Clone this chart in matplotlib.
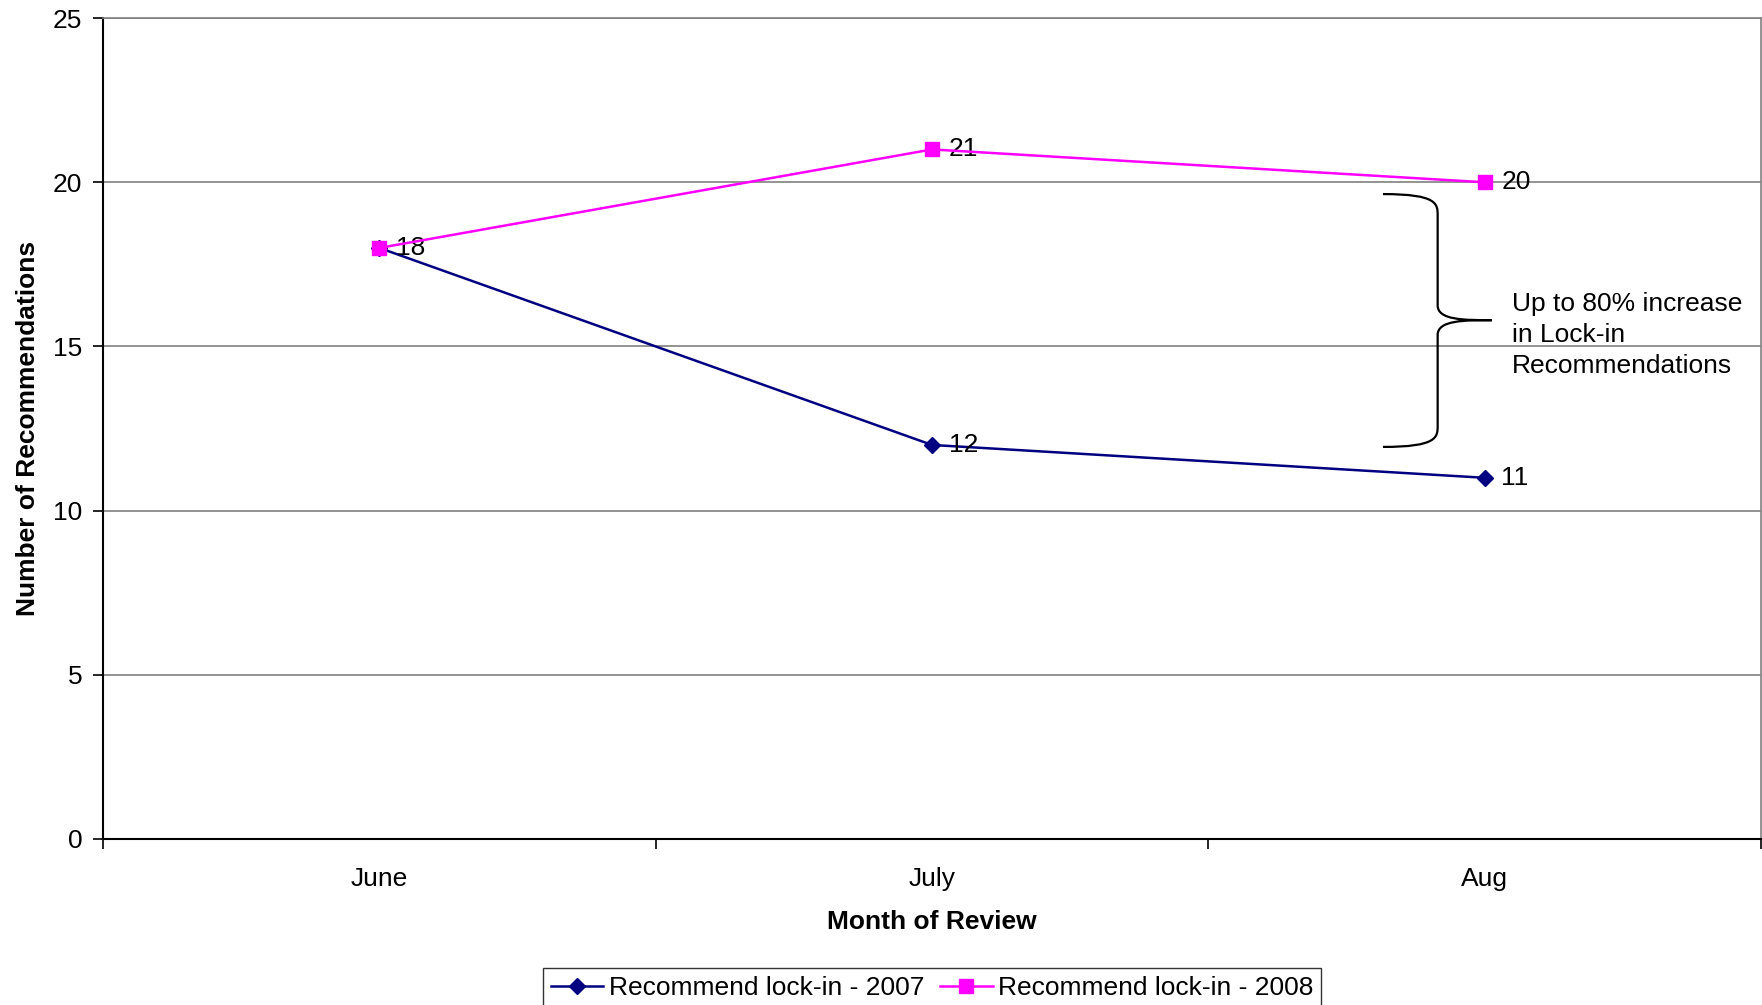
import matplotlib.pyplot as plt
from matplotlib.path import Path
from matplotlib.patches import PathPatch

plt.rcParams['font.family'] = ['Liberation Sans', 'DejaVu Sans']

months = ['June', 'July', 'Aug']
lock_2007 = [18, 12, 11]
lock_2008 = [18, 21, 20]
note = 'Up to 80% increase\nin Lock-in\nRecommendations'

fig = plt.figure(figsize=(17.62, 10.05), dpi=100)
ax = fig.add_axes([0.0585, 0.1652, 0.9409, 0.8168])

x = [i + 0.5 for i in range(len(months))]
ax.plot(x, lock_2007, color='#000080', lw=1.8, marker='D', ms=8,
        label='Recommend lock-in - 2007', zorder=3)
ax.plot(x, lock_2008, color='#ff00ff', lw=1.8, marker='s', ms=10.5,
        label='Recommend lock-in - 2008', zorder=4)

for xi, v in zip(x, lock_2007):
    if xi > 1:
        ax.text(xi + 0.03, v, str(v), va='center', ha='left', fontsize=19)
for xi, v in zip(x, lock_2008):
    ax.text(xi + 0.03, v, str(v), va='center', ha='left', fontsize=19)

ax.set_xlim(0, 3)
ax.set_ylim(0, 25)
ax.set_yticks(range(0, 26, 5))
ax.set_xticks([0, 1, 2, 3])
ax.set_xticklabels([])
ax.set_xticks(x, minor=True)
ax.set_xticklabels(months, minor=True, fontsize=19)
ax.tick_params(axis='x', which='minor', length=0, pad=20)
ax.tick_params(axis='x', which='major', direction='out', length=7, width=1.2)
ax.tick_params(axis='y', direction='out', length=7, width=1.2, labelsize=19, pad=8)
ax.yaxis.grid(True, color='#808080', lw=1.2)
ax.set_axisbelow(True)

for s in ['top', 'right']:
    ax.spines[s].set_color('#808080')
    ax.spines[s].set_linewidth(1.2)
for s in ['left', 'bottom']:
    ax.spines[s].set_color('black')
    ax.spines[s].set_linewidth(1.5)

ax.set_xlabel('Month of Review', fontsize=19, fontweight='bold', labelpad=14)
ax.set_ylabel('Number of Recommendations', fontsize=19, fontweight='bold', labelpad=9)

# curly brace
x0, x1, x2 = 2.316, 2.415, 2.513
yt, ym, yb = 19.64, 15.80, 11.94
verts = [(x0, yt), (x1, yt), (x1, yt - 0.3), (x1, yt - 0.65),
         (x1, ym + 0.45),
         (x1, ym), (x2 - 0.05, ym), (x2, ym),
         (x2 - 0.05, ym), (x1, ym), (x1, ym - 0.45),
         (x1, yb + 0.65),
         (x1, yb + 0.3), (x1, yb), (x0, yb)]
codes = [Path.MOVETO, Path.CURVE4, Path.CURVE4, Path.CURVE4,
         Path.LINETO,
         Path.CURVE4, Path.CURVE4, Path.CURVE4,
         Path.CURVE4, Path.CURVE4, Path.CURVE4,
         Path.LINETO,
         Path.CURVE4, Path.CURVE4, Path.CURVE4]
ax.add_patch(PathPatch(Path(verts, codes), fill=False, lw=1.6, color='black'))
ax.text(2.549, 15.35, note, ha='left', va='center', fontsize=19, linespacing=1.39)

leg = fig.legend(loc='upper center', bbox_to_anchor=(0.529, 0.05), ncol=2,
                 fontsize=19, frameon=True, fancybox=False, edgecolor='black',
                 handlelength=2.0, handletextpad=0.2, columnspacing=0.6,
                 borderpad=0.3)
leg.get_frame().set_linewidth(1.0)

fig.savefig('out.png', dpi=100)
